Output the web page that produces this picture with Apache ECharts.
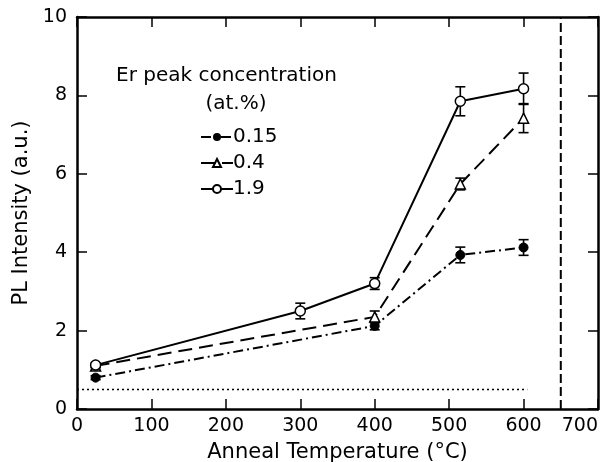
<!DOCTYPE html>
<html>
<head>
<meta charset="utf-8">
<script src="https://cdn.jsdelivr.net/npm/echarts@6/dist/echarts.min.js"></script>
<style>
  html, body { margin: 0; padding: 0; background: #fff; }
  #chart { width: 604px; height: 462px; }
</style>
</head>
<body>
<div id="chart"></div>
<script>
// data
const temps015 = [25, 400, 515, 600];
const vals015 = [0.8, 2.12, 3.93, 4.12];
const errs015 = [0.05, 0.1, 0.2, 0.2];

const temps04 = [25, 400, 515, 600];
const vals04 = [1.1, 2.35, 5.74, 7.42];
const errs04 = [0.05, 0.15, 0.15, 0.37];

const temps19 = [25, 300, 400, 515, 600];
const vals19 = [1.12, 2.5, 3.2, 7.85, 8.17];
const errs19 = [0.05, 0.2, 0.15, 0.37, 0.4];

const baseline = [[0, 0.5], [605, 0.5]];
const limitX = 650;

const font = 'DejaVu Sans';

function pairs(xs, ys) {
  return xs.map((x, i) => [x, ys[i]]);
}
function errData(xs, ys, es) {
  return xs.map((x, i) => [x, ys[i] - es[i], ys[i] + es[i]]);
}

function errorBars(data) {
  return {
    type: 'custom',
    silent: true,
    data: data,
    z: 3,
    renderItem: function (params, api) {
      const x = api.value(0);
      const lo = api.coord([x, api.value(1)]);
      const hi = api.coord([x, api.value(2)]);
      const w = 5;
      const st = { stroke: '#000', lineWidth: 1.6 };
      return {
        type: 'group',
        children: [
          { type: 'line', shape: { x1: lo[0], y1: lo[1], x2: hi[0], y2: hi[1] }, style: st },
          { type: 'line', shape: { x1: lo[0] - w, y1: lo[1], x2: lo[0] + w, y2: lo[1] }, style: st },
          { type: 'line', shape: { x1: hi[0] - w, y1: hi[1], x2: hi[0] + w, y2: hi[1] }, style: st }
        ]
      };
    },
    encode: { x: 0, y: [1, 2] }
  };
}

const chart = echarts.init(document.getElementById('chart'));

const axisBase = {
  type: 'value',
  axisLine: { show: true, onZero: false, lineStyle: { color: '#000', width: 2.5 } },
  axisTick: { show: true, inside: true, length: 10, lineStyle: { color: '#000', width: 1.5 } },
  splitLine: { show: false }
};

chart.setOption({
  animation: false,
  backgroundColor: '#fff',
  textStyle: { fontFamily: font, color: '#000' },
  grid: { left: 77, right: 6, top: 17, bottom: 53, outerBoundsMode: 'none', containLabel: false },
  title: [
    {
      text: 'Er peak concentration',
      left: 111,
      top: 61,
      textStyle: { fontFamily: font, fontSize: 20, fontWeight: 'normal', color: '#000' }
    },
    {
      text: '(at.%)',
      left: 231,
      top: 89,
      textAlign: 'center',
      textStyle: { fontFamily: font, fontSize: 20, fontWeight: 'normal', color: '#000' }
    }
  ],
  legend: {
    orient: 'vertical',
    left: 195,
    top: 122,
    itemWidth: 32,
    itemHeight: 10,
    itemGap: 6,
    textStyle: { fontFamily: font, fontSize: 20, color: '#000', padding: [0, 0, 0, -5] },
    data: ['0.15', '0.4', '1.9']
  },
  xAxis: [
    Object.assign({}, axisBase, {
      min: 0, max: 700, interval: 100, position: 'bottom',
      name: 'Anneal Temperature (°C)',
      nameLocation: 'middle',
      nameGap: 33,
      nameTextStyle: { fontFamily: font, fontSize: 21, color: '#000' },
      axisLabel: { fontFamily: font, fontSize: 19, color: '#000', margin: 8, alignMaxLabel: 'right' }
    }),
    Object.assign({}, axisBase, {
      min: 0, max: 700, interval: 100, position: 'top',
      axisLabel: { show: false }
    })
  ],
  yAxis: [
    Object.assign({}, axisBase, {
      min: 0, max: 10, interval: 2, position: 'left',
      name: 'PL Intensity (a.u.)',
      nameLocation: 'middle',
      nameGap: 44,
      nameTextStyle: { fontFamily: font, fontSize: 21, color: '#000' },
      axisLabel: { fontFamily: font, fontSize: 19, color: '#000', margin: 10 }
    }),
    Object.assign({}, axisBase, {
      min: 0, max: 10, interval: 2, position: 'right',
      axisLabel: { show: false }
    })
  ],
  series: [
    {
      name: '0.15',
      type: 'line',
      data: pairs(temps015, vals015),
      symbol: 'circle',
      symbolSize: 9,
      itemStyle: { color: '#000', borderColor: '#000' },
      lineStyle: { color: '#000', width: 2, type: [10, 4, 2, 4] },
      z: 4
    },
    {
      name: '0.4',
      type: 'line',
      data: pairs(temps04, vals04),
      symbol: 'triangle',
      symbolSize: 10,
      itemStyle: { color: '#fff', borderColor: '#000', borderWidth: 1.5 },
      lineStyle: { color: '#000', width: 2, type: [14, 7] },
      z: 4
    },
    {
      name: '1.9',
      type: 'line',
      data: pairs(temps19, vals19),
      symbol: 'circle',
      symbolSize: 10,
      itemStyle: { color: '#fff', borderColor: '#000', borderWidth: 1.5 },
      lineStyle: { color: '#000', width: 2, type: 'solid' },
      z: 4
    },
    errorBars(errData(temps015, vals015, errs015)),
    errorBars(errData(temps04, vals04, errs04)),
    errorBars(errData(temps19, vals19, errs19)),
    {
      type: 'line',
      data: baseline,
      symbol: 'none',
      silent: true,
      lineStyle: { color: '#000', width: 1.5, type: [2, 3] }
    },
    {
      type: 'line',
      data: [[limitX, 0], [limitX, 10]],
      symbol: 'none',
      silent: true,
      lineStyle: { color: '#000', width: 2, type: [9, 4] }
    }
  ]
});
</script>
</body>
</html>
